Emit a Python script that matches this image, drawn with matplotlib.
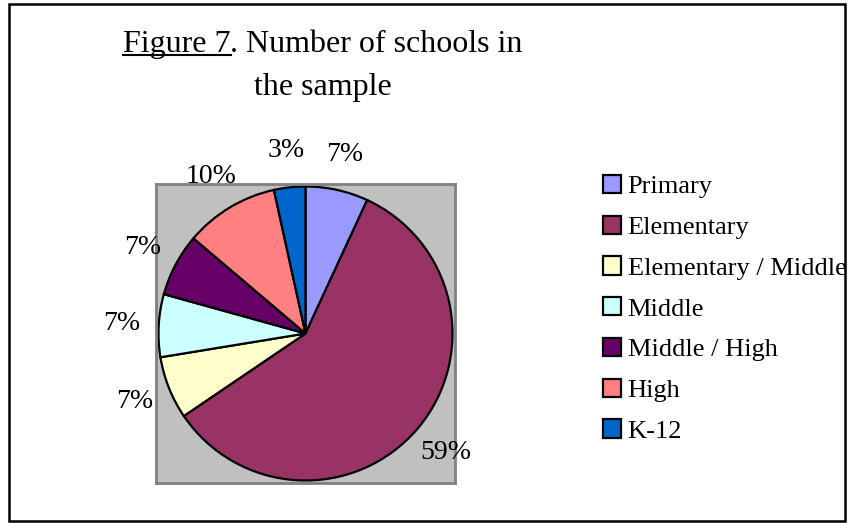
import matplotlib
matplotlib.use('Agg')
from matplotlib import pyplot as plt
from matplotlib.patches import Rectangle, Patch
from matplotlib.lines import Line2D

plt.rcParams['font.family'] = ['Liberation Serif', 'DejaVu Serif']

# school types and number of schools in the sample
categories = ['Primary', 'Elementary', 'Elementary / Middle', 'Middle',
              'Middle / High', 'High', 'K-12']
schools = [2, 17, 2, 2, 2, 3, 1]
colors = ['#9999FF', '#993366', '#FFFFCC', '#CCFFFF',
          '#660066', '#FF8080', '#0066CC']

W, H = 851, 523
fig = plt.figure(figsize=(W / 100, H / 100), dpi=100)
fig.patch.set_facecolor('white')

# outer chart border
fig.add_artist(Rectangle((9 / W, 1 - 521 / H), 836 / W, 517 / H,
                         transform=fig.transFigure, fill=False,
                         edgecolor='black', linewidth=1.8))

# plot area (grey square)
ax = fig.add_axes([156 / W, 1 - 483 / H, 299 / W, 299 / H])
wedges, texts, autotexts = ax.pie(
    schools, colors=colors, startangle=90, counterclock=False,
    autopct='%.0f%%', pctdistance=1.25,
    wedgeprops=dict(edgecolor='black', linewidth=1.6),
    textprops=dict(fontsize=20, color='black'))
ax.set_frame_on(True)
ax.set_facecolor('#C0C0C0')
for s in ax.spines.values():
    s.set_edgecolor('#808080')
    s.set_linewidth(2)
ax.set_xlim(-1.017, 1.017)
ax.set_ylim(-1.017, 1.017)
ax.set_xticks([])
ax.set_yticks([])

# legend
handles = [Patch(facecolor=c, edgecolor='black', linewidth=1.6) for c in colors]
fig.legend(handles, categories, loc='upper left',
           bbox_to_anchor=(603 / W, 1 - 175 / H), frameon=False,
           fontsize=19, handlelength=0.68, handleheight=0.68,
           handletextpad=0.25, labelspacing=0.66, borderpad=0,
           borderaxespad=0)

# title with underlined "Figure 7"
fig.canvas.draw()
r = fig.canvas.get_renderer()
x0 = 123 / W
y1 = 1 - 52 / H
t1 = fig.text(x0, y1, 'Figure 7', fontsize=23, va='baseline', ha='left')
bb = t1.get_window_extent(renderer=r)
t2 = fig.text(bb.x1 / W, y1, '. Number of schools in', fontsize=23,
              va='baseline', ha='left')
bb2 = t2.get_window_extent(renderer=r)
uy = y1 - 3 / H
fig.add_artist(Line2D([x0, bb.x1 / W], [uy, uy], transform=fig.transFigure,
                      color='black', linewidth=1.5))
xc = (bb.x0 + bb2.x1) / 2 / W
fig.text(xc, 1 - 95 / H, 'the sample', fontsize=23, va='baseline', ha='center')

plt.savefig('out.png', dpi=100)
